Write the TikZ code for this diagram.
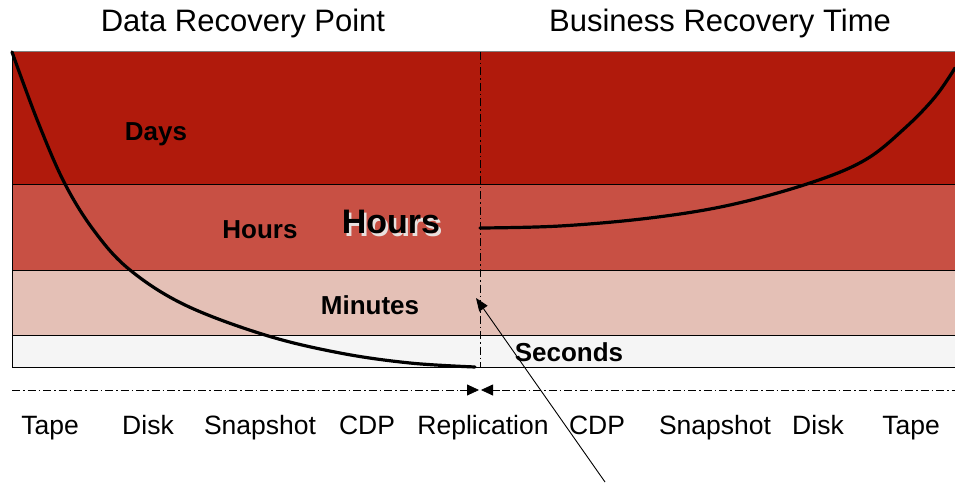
\documentclass[tikz,border=0pt]{standalone}
\usepackage{fontspec}
\setmainfont{Liberation Sans}
\usetikzlibrary{arrows.meta}
\definecolor{days}{HTML}{B01A0C}
\definecolor{hrs}{HTML}{C85044}
\definecolor{mins}{HTML}{E4C0B6}
\definecolor{secs}{HTML}{F5F5F5}
\definecolor{shadowc}{HTML}{E8E0DE}
\tikzset{
  band/.style={draw=black, line width=0.8pt},
  dashdot/.style={line width=0.8pt, dash pattern=on 8pt off 3pt on 1.5pt off 3pt},
  curve/.style={line width=3.2pt, line cap=round},
  title/.style={font=\fontsize{31}{34}\selectfont, anchor=base, inner sep=0pt},
  tech/.style={font=\fontsize{26.5}{30}\selectfont, anchor=base, inner sep=0pt},
  bandlbl/.style={font=\bfseries\fontsize{26}{29}\selectfont, anchor=base, inner sep=0pt},
  midarrow/.style={-{Triangle[length=12pt,width=11pt]}, line width=0.8pt},
}
\begin{document}
\begin{tikzpicture}[x=1pt,y=-1pt]
\useasboundingbox (0,0) rectangle (955,486);
% bands
\fill[days] (12,52) rectangle (955,184);
\fill[hrs] (12,184) rectangle (955,270);
\fill[mins] (12,270) rectangle (955,335);
\fill[secs] (12,335) rectangle (955,367);
\draw[gray, line width=1pt] (12,52) -- (955,52);
\draw[band] (12,184) -- (955,184);
\draw[band] (12,270) -- (955,270);
\draw[band] (12,335) -- (955,335);
\draw[band] (12,367) -- (955,367);
\draw[band] (12,52) -- (12,367);
% vertical divider
\coordinate (vt) at (480,52);
\coordinate (vb) at (480,367);
\draw[dashdot] (vt) -- (vb);
% band labels
\node[bandlbl] (days) at (156,141) {Days};
\node[bandlbl] (hours) at (260,239) {Hours};
\node[bandlbl] (minutes) at (370,314) {Minutes};
\node[bandlbl] (seconds) at (569,361) {Seconds};
\node[font=\bfseries\fontsize{34}{38}\selectfont, anchor=base, inner sep=0pt] (bigh) at (391,234)
  {\rlap{\hspace{2.5pt}\raisebox{-2.5pt}{\textcolor{shadowc}{Hours}}}Hours};
% curves
\draw[curve] plot[smooth, tension=0.6] coordinates {(12,52) (38,122) (65,184) (95,232) (130,270) (185,305) (265,335) (340,353) (410,363) (475,367)};
\draw[curve] plot[smooth, tension=0.6] coordinates {(480,228) (560,226) (650,218) (730,205) (810,183) (865,160) (905,128) (935,97) (955,68)};
% titles
\node[title] (t1) at (243,32) {Data Recovery Point};
\node[title] (t2) at (720,32) {Business Recovery Time};
% axis
\coordinate (al) at (12,390);
\coordinate (ar) at (955,390);
\coordinate (ml) at (479,390);
\coordinate (mr) at (481,390);
\draw[dashdot] (al) -- (458,390);
\draw[dashdot] (502,390) -- (ar);
\draw[midarrow] (460,390) -- (ml);
\draw[midarrow] (500,390) -- (mr);
% technology labels
\node[tech] (l1) at (50,434) {Tape};
\node[tech] (l2) at (148,434) {Disk};
\node[tech] (l3) at (260,434) {Snapshot};
\node[tech] (l4) at (367,434) {CDP};
\node[tech] (l5) at (483,434) {Replication};
\node[tech] (l6) at (597,434) {CDP};
\node[tech] (l7) at (715,434) {Snapshot};
\node[tech] (l8) at (818,434) {Disk};
\node[tech] (l9) at (911,434) {Tape};
% pointer
\coordinate (pfrom) at (605,482);
\coordinate (pto) at (476,298);
\draw[-{Triangle[length=13pt,width=10pt]}, line width=0.9pt] (pfrom) -- (pto);
\end{tikzpicture}
\end{document}
